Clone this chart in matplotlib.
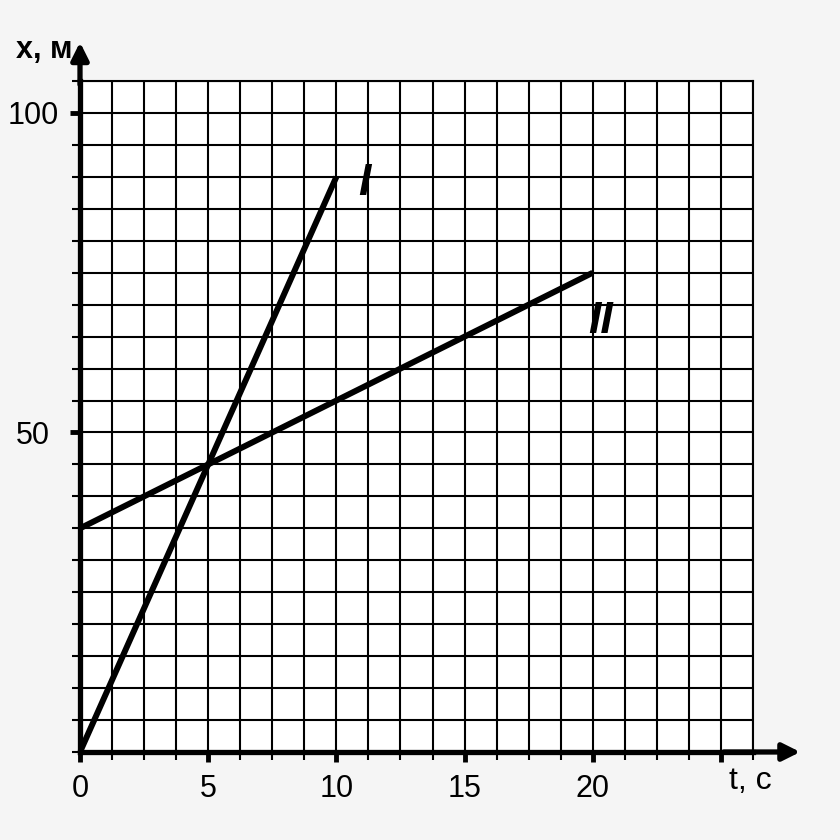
import numpy as np
import matplotlib.pyplot as plt

# motion graphs x(t)
t_I = [0, 10]
x_I = [0, 90]
t_II = [0, 20]
x_II = [35, 75]

x_major = [0, 5, 10, 15, 20, 25]
x_labels = ['0', '5', '10', '15', '20', '']
y_major = [50, 100]
y_labels = ['50', '100']

plt.rcParams['font.family'] = ['Liberation Sans', 'DejaVu Sans']

fig = plt.figure(figsize=(8.4, 8.4), dpi=100, facecolor='#f5f5f5')
ax = fig.add_axes([80 / 840, 88 / 840, 673 / 840, 671 / 840])
ax.set_facecolor('white')
ax.set_xlim(0, 26.25)
ax.set_ylim(0, 105)

ax.set_xticks(np.arange(0, 26.3, 1.25), minor=True)
ax.set_yticks(np.arange(0, 105.1, 5), minor=True)
ax.set_xticks(x_major)
ax.set_xticklabels(x_labels)
ax.set_yticks(y_major)
ax.set_yticklabels(y_labels, ha='center')
ax.grid(which='both', color='black', lw=1.5)
ax.set_axisbelow(True)

ax.tick_params(which='minor', direction='out', length=6, width=1.5, color='black')
ax.tick_params(which='major', direction='out', length=7, width=3.5, color='black',
               labelsize=22)
ax.tick_params(axis='x', which='major', pad=9)
ax.tick_params(axis='y', which='major', pad=27)

for s in ['top', 'right']:
    ax.spines[s].set_linewidth(1.5)
for s in ['left', 'bottom']:
    ax.spines[s].set_linewidth(3.8)

# axis arrows
ax.annotate('', xy=(28.2, 0), xytext=(25, 0), annotation_clip=False,
            arrowprops=dict(arrowstyle='-|>', color='black', lw=3.8, mutation_scale=26))
ax.annotate('', xy=(0, 111.5), xytext=(0, 104), annotation_clip=False,
            arrowprops=dict(arrowstyle='-|>', color='black', lw=3.8, mutation_scale=26))

ax.plot(t_I, x_I, color='black', lw=4.3, solid_capstyle='butt')
ax.plot(t_II, x_II, color='black', lw=4.3, solid_capstyle='butt')

ax.text(11.1, 89, 'I', fontsize=32, fontstyle='italic', fontweight='bold', ha='center', va='center')
ax.text(20.3, 67.4, 'II', fontsize=32, fontstyle='italic', fontweight='bold', ha='center', va='center')

fig.text(16 / 840, 1 - 50 / 840, 'x, м', fontsize=22, fontweight='bold', ha='left', va='center')
fig.text(750 / 840, 1 - 781 / 840, 't, с', fontsize=23, ha='center', va='center')

fig.savefig('out.png', dpi=100, facecolor=fig.get_facecolor())
